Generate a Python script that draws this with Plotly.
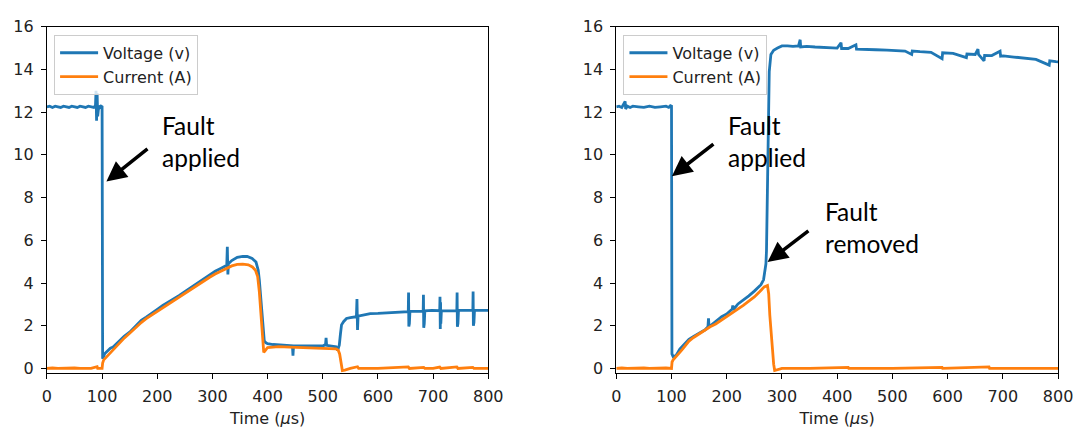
import plotly.graph_objects as go

# ---------------- data ----------------
# Left panel: voltage
t_v1 = [0, 5, 10, 15, 20, 25, 30, 35, 40, 45, 50, 55, 60, 65, 70, 75, 80, 85,
        88, 89, 90, 91, 92, 94, 96, 98, 100, 100.8,
        101, 105, 110, 115, 120, 130, 140, 150, 160, 171, 180, 190, 202, 210,
        220, 233, 240, 250, 264, 270, 280, 295, 305, 315, 326, 327, 328, 329,
        335, 345, 355, 363, 372, 379, 383, 385, 387.5, 389.5, 392, 394, 397,
        400, 410, 420, 430, 440, 445, 446, 447, 460, 475, 490, 500, 505, 506,
        507, 515, 524, 527, 530, 532, 534, 538, 543, 550, 558, 561, 562, 563,
        564, 575, 586, 600, 620, 636, 650, 655, 655.5, 656, 656.5, 657, 658,
        670, 682, 682.5, 683, 683.5, 684, 685, 698, 712, 712.5, 713, 713.5,
        714, 715, 730, 743, 743.5, 744, 744.5, 745, 746, 760, 772, 772.5, 773,
        773.5, 774, 775, 790, 800]
v1 = [12.25, 12.28, 12.22, 12.28, 12.25, 12.22, 12.28, 12.25, 12.22, 12.28,
      12.25, 12.22, 12.28, 12.25, 12.22, 12.28, 12.25, 12.22,
      12.3, 13.0, 11.6, 12.9, 11.8, 12.3, 12.22, 12.28, 12.25, 0.5,
      0.45, 0.7, 0.85, 0.95, 1.0, 1.25, 1.5, 1.7, 1.95, 2.25, 2.4, 2.6, 2.8,
      2.95, 3.1, 3.3, 3.42, 3.6, 3.85, 3.95, 4.1, 4.38, 4.55, 4.68, 4.83, 5.7,
      4.4, 4.9, 5.05, 5.2, 5.25, 5.24, 5.15, 4.98, 4.6, 4.15, 3.3, 2.5, 1.7,
      1.28, 1.2, 1.16, 1.12, 1.1, 1.08, 1.07, 1.06, 0.6, 1.05, 1.05, 1.05,
      1.06, 1.05, 1.12, 1.43, 1.08, 1.05, 1.01, 0.85, 1.1, 1.6, 2.04, 2.2,
      2.34, 2.38, 2.42, 2.42, 3.25, 1.8, 2.45, 2.5, 2.57, 2.58, 2.6, 2.64,
      2.66, 2.66, 3.55, 1.96, 3.3, 2.1, 2.67, 2.68, 2.68, 3.45, 1.9, 3.2, 2.1,
      2.7, 2.72, 2.7, 3.35, 1.85, 3.1, 2.1, 2.7, 2.72, 2.71, 3.55, 1.95, 3.3,
      2.1, 2.72, 2.72, 2.72, 3.6, 2.0, 3.3, 2.15, 2.72, 2.71, 2.72]

# Left panel: current
t_i1 = [0, 10, 20, 30, 40, 50, 60, 70, 80, 91, 92, 100, 101, 103, 110, 120,
        130, 140.5, 150, 160, 171.5, 180, 190, 202.5, 210, 220, 233, 240, 250,
        264, 275, 285, 295, 305, 315, 326, 335, 345, 355, 365, 372.5, 378, 382,
        385, 388, 390.5, 393, 396, 400, 410, 420, 440, 460, 480, 500, 515, 524,
        528, 530.6, 533, 535.5, 540, 543, 550, 563, 565, 600, 655, 657, 683,
        685, 700, 712, 714, 743, 745, 772, 774, 800]
i1 = [0.0, 0.02, 0.0, 0.01, 0.0, 0.02, 0.0, 0.01, 0.0, 0.08, 0.0, 0.0, 0.25,
      0.4, 0.6, 0.85, 1.15, 1.43, 1.65, 1.9, 2.16, 2.33, 2.5, 2.72, 2.85, 3.0,
      3.25, 3.37, 3.52, 3.77, 3.95, 4.12, 4.27, 4.42, 4.55, 4.68, 4.8, 4.87,
      4.88, 4.85, 4.75, 4.6, 4.3, 3.6, 2.5, 1.5, 0.75, 0.85, 0.98, 1.0, 1.02,
      1.0, 0.98, 0.97, 0.95, 0.93, 0.92, 0.85, 0.68, 0.3, -0.1, -0.08, -0.05,
      0.0, 0.08, 0.0, 0.0, 0.07, 0.0, 0.05, 0.0, 0.0, 0.06, 0.0, 0.07, 0.0,
      0.05, 0.0, 0.0]

# Right panel: voltage
t_v2 = [0, 5, 10, 16, 17, 20, 25, 30, 40, 50, 60, 70, 80, 90, 95, 98, 100,
        100.8, 103, 108, 115, 120, 131.6, 140, 150, 161, 166, 167, 168, 175,
        180, 190.8, 200, 210, 211, 212, 220.4, 230, 240, 250, 256, 262, 266.7,
        269, 271, 272, 273, 274, 275, 277, 280, 285, 292, 300, 310, 320, 330,
        333, 334, 345, 360, 380, 400, 407, 408, 420, 434, 435, 450, 470, 490,
        510, 523, 535, 536, 550, 570, 590, 591, 610, 634, 635, 650, 655, 656,
        666, 667, 680, 695, 696, 701, 720, 740, 760, 784, 785, 796, 800]
v2 = [12.25, 12.28, 12.22, 12.5, 12.15, 12.28, 12.22, 12.28, 12.25, 12.22,
      12.28, 12.22, 12.25, 12.28, 12.22, 12.3, 12.28,
      0.68, 0.55, 0.6, 0.9, 1.05, 1.36, 1.5, 1.65, 1.81, 1.95, 2.34, 1.95,
      2.1, 2.2, 2.42, 2.55, 2.78, 2.95, 2.75, 3.02, 3.2, 3.4, 3.62, 3.75,
      3.92, 4.15, 4.5, 4.9, 5.5, 7.5, 10.5, 12.5, 13.9, 14.7, 14.9, 15.0,
      15.1, 15.1, 15.08, 15.1, 15.39, 15.05, 15.08, 15.05, 15.02, 15.0, 15.25,
      14.98, 14.98, 15.15, 14.95, 14.95, 14.92, 14.9, 14.88, 14.86, 14.7,
      14.86, 14.83, 14.8, 14.5, 14.78, 14.75, 14.55, 14.72, 14.7, 14.95,
      14.7, 14.4, 14.66, 14.65, 14.85, 14.62, 14.63, 14.58, 14.52, 14.47,
      14.2, 14.4, 14.36, 14.35]

# Right panel: current
t_i2 = [0, 10, 20, 30, 40, 50, 60, 70, 80, 90, 100, 101, 103, 108, 115, 120,
        131.6, 140, 150, 161, 170, 180, 190.8, 200, 210, 220.4, 230, 240, 250,
        260, 267.9, 273.8, 276, 278, 280.5, 282.7, 285, 286.8, 290, 294.5, 300,
        350, 420, 421, 500, 590, 591, 675, 676, 800]
i2 = [0.0, 0.02, 0.0, 0.01, 0.0, 0.02, 0.0, 0.01, 0.0, 0.02, 0.0, 0.3, 0.4,
      0.53, 0.75, 0.9, 1.28, 1.45, 1.62, 1.77, 1.95, 2.08, 2.26, 2.42, 2.58,
      2.79, 2.95, 3.15, 3.35, 3.6, 3.82, 3.88, 3.5, 2.5, 1.5, 0.68, 0.2, -0.1,
      -0.08, -0.05, 0.0, 0.0, 0.05, 0.0, 0.0, 0.05, 0.0, 0.07, 0.0, 0.0]

series_names = ["Voltage (v)", "Current (A)"]
x_ticks = [0, 100, 200, 300, 400, 500, 600, 700, 800]
y_ticks = [0, 2, 4, 6, 8, 10, 12, 14, 16]
x_title = "Time (<i>μ</i>s)"

# annotations: (label, text x, text y, arrow head x, head y, tail x, tail y)
notes_left = [("Fault<br>applied", 205, 10.62, 107.8, 8.75, 185, 10.33)]
notes_right = [("Fault<br>applied", 198, 10.62, 100.7, 9.0, 178.6, 10.56),
               ("Fault<br>removed", 374.7, 6.59, 274, 4.98, 350.6, 6.49)]

# ---------------- figure ----------------
BLUE = "#1f77b4"
ORANGE = "#ff7f0e"
TICK_FONT = dict(family="DejaVu Sans", size=16, color="#222222")
W, H = 1091, 428

fig = go.Figure()
fig.add_trace(go.Scatter(x=t_v1, y=v1, mode="lines", name=series_names[0],
                         line=dict(color=BLUE, width=2.8), xaxis="x", yaxis="y",
                         legend="legend", legendgroup="a"))
fig.add_trace(go.Scatter(x=t_i1, y=i1, mode="lines", name=series_names[1],
                         line=dict(color=ORANGE, width=2.8), xaxis="x", yaxis="y",
                         legend="legend", legendgroup="b"))
fig.add_trace(go.Scatter(x=t_v2, y=v2, mode="lines", name=series_names[0],
                         line=dict(color=BLUE, width=2.8), xaxis="x2", yaxis="y2",
                         legend="legend2", legendgroup="c"))
fig.add_trace(go.Scatter(x=t_i2, y=i2, mode="lines", name=series_names[1],
                         line=dict(color=ORANGE, width=2.8), xaxis="x2", yaxis="y2",
                         legend="legend2", legendgroup="d"))

axis_common = dict(showline=True, mirror=True, linecolor="black", linewidth=1,
                   ticks="outside", ticklen=5, tickwidth=1, tickcolor="black",
                   showgrid=False, zeroline=False, tickfont=TICK_FONT,
                   ticklabelstandoff=4)

ydom = [1 - 376 / H, 1 - 18.3 / H]
legend_common = dict(xanchor="left", yanchor="top", y=1 - 26.7 / H,
                     bgcolor="rgba(255,255,255,0.8)", bordercolor="#cccccc",
                     borderwidth=1, itemwidth=38,
                     font=dict(family="DejaVu Sans", size=16, color="#222222"),
                     tracegroupgap=0, traceorder="grouped")
fig.update_layout(
    width=W, height=H,
    margin=dict(l=0, r=0, t=0, b=0),
    paper_bgcolor="white", plot_bgcolor="white",
    xaxis=dict(domain=[42.7 / W, 492.3 / W], range=[0, 800],
               tickvals=x_ticks, anchor="y",
               title=dict(text=x_title, font=TICK_FONT, standoff=8), **axis_common),
    yaxis=dict(domain=ydom, range=[-0.2, 16], tickvals=y_ticks, anchor="x",
               **axis_common),
    xaxis2=dict(domain=[622.7 / W, 1072.7 / W], range=[0, 800],
                tickvals=x_ticks, anchor="y2",
                title=dict(text=x_title, font=TICK_FONT, standoff=8), **axis_common),
    yaxis2=dict(domain=ydom, range=[-0.2, 16], tickvals=y_ticks, anchor="x2",
                **axis_common),
    legend=dict(x=50 / W, **legend_common),
    legend2=dict(x=630 / W, **legend_common),
    showlegend=True,
)

NOTE_FONT = dict(family="Lato", size=24.5, color="black")
annotations = []
for notes, xr, yr in ((notes_left, "x", "y"), (notes_right, "x2", "y2")):
    for label, tx, ty, hx, hy, ax, ay in notes:
        annotations.append(dict(text=label, x=tx, y=ty, xref=xr, yref=yr,
                                xanchor="left", yanchor="middle", align="left",
                                showarrow=False, font=NOTE_FONT))
        annotations.append(dict(text="", x=hx, y=hy, ax=ax, ay=ay, xref=xr, yref=yr,
                                axref=xr, ayref=yr, showarrow=True, arrowhead=2,
                                arrowsize=1.15, arrowwidth=3.5, arrowcolor="black",
                                standoff=0, startstandoff=0))
fig.update_layout(annotations=annotations)

fig.write_html("out.html",
               config={"displayModeBar": False},
               post_script="document.body.style.margin='0';"
                           "document.body.style.overflow='hidden';")
